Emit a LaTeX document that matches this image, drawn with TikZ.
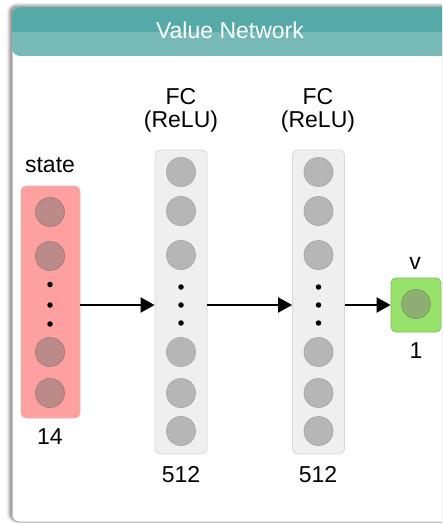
\documentclass[tikz,border=0pt]{standalone}
\usepackage{fontspec}
\setmainfont{Liberation Sans}
\usetikzlibrary{shadows.blur,arrows.meta}

\definecolor{headdark}{HTML}{55AAA8}
\definecolor{headlight}{HTML}{76B9B7}
\definecolor{panelline}{HTML}{B0B0B0}
\definecolor{statefill}{HTML}{FFA0A0}
\definecolor{stateline}{HTML}{E0B8B8}
\definecolor{stateunit}{HTML}{BD8A8A}
\definecolor{stateunitline}{HTML}{AA7C7C}
\definecolor{layerfill}{HTML}{EFEFEF}
\definecolor{layerline}{HTML}{D8D8D8}
\definecolor{unitfill}{HTML}{B6B6B6}
\definecolor{unitline}{HTML}{AAAAAA}
\definecolor{outfill}{HTML}{98E26C}
\definecolor{outunit}{HTML}{8DAE72}
\definecolor{outunitline}{HTML}{7F9E66}

\begin{document}
\begin{tikzpicture}[x=1pt,y=-1pt,
  lbl/.style={font=\fontsize{23}{27}\selectfont, anchor=base, inner sep=0pt},
  layerbox/.style={draw=layerline, fill=layerfill, line width=0.8pt, rounded corners=5pt, inner sep=0pt},
  unit/.style={circle, draw=unitline, fill=unitfill, line width=0.8pt, minimum size=29pt, inner sep=0pt},
  stateunit/.style={unit, draw=stateunitline, fill=stateunit},
  dot/.style={circle, fill=black, minimum size=5.5pt, inner sep=0pt},
  arr/.style={line width=2pt, -{Triangle[length=14pt,width=15pt]}}]

\useasboundingbox (0,0) rectangle (442,524);

% panel with soft shadow
\begin{scope}
  \clip (0,0) rectangle (442,524);
  \fill[white, draw=panelline, line width=1pt, rounded corners=7pt,
        blur shadow={shadow xshift=-2.5pt, shadow yshift=1.5pt, shadow blur radius=3pt, shadow opacity=50}]
    (12,7) rectangle (452,522);
  % two-tone header
  \begin{scope}
    \clip[rounded corners=8pt] (12,7) rectangle (452,56);
    \fill[headdark] (12,7) rectangle (452,32);
    \fill[headlight] (12,32) rectangle (452,56);
  \end{scope}
\end{scope}
\node[lbl, text=white] (title) at (230,39) {Value Network};

% input layer
\node[layerbox, draw=stateline, fill=statefill, minimum width=59pt, minimum height=232pt] (in) at (50.5,302) {};
\node[stateunit] (in1) at (50,212) {};
\node[stateunit] (in2) at (50,256) {};
\node[dot] (ind1) at (50,284.5) {};
\node[dot] (ind2) at (50,305) {};
\node[dot] (ind3) at (50,324) {};
\node[stateunit] (in3) at (50,352) {};
\node[stateunit] (in4) at (50,393) {};
\node[lbl] (inname) at (50,172) {state};
\node[lbl] (insize) at (50,444) {14};

% first hidden layer
\node[layerbox, minimum width=52pt, minimum height=304pt] (fca) at (181,302) {};
\foreach \y [count=\i] in {172,211,255,352,393,431}
  \node[unit] (fca\i) at (181,\y) {};
\node[dot] (fcad1) at (181,287) {};
\node[dot] (fcad2) at (181,305) {};
\node[dot] (fcad3) at (181,323) {};
\node[lbl] (fcaname) at (181,104) {FC};
\node[lbl] (fcaact) at (181,128) {(ReLU)};
\node[lbl] (fcasize) at (181,482) {512};

% second hidden layer
\node[layerbox, minimum width=52pt, minimum height=304pt] (fcb) at (318.5,302) {};
\foreach \y [count=\i] in {172,211,255,352,393,431}
  \node[unit] (fcb\i) at (318.5,\y) {};
\node[dot] (fcbd1) at (318.5,287) {};
\node[dot] (fcbd2) at (318.5,305) {};
\node[dot] (fcbd3) at (318.5,323) {};
\node[lbl] (fcbname) at (318,104) {FC};
\node[lbl] (fcbact) at (318,128) {(ReLU)};
\node[lbl] (fcbsize) at (318,482) {512};

% output
\node[layerbox, draw=outfill!85!black, fill=outfill, minimum width=50pt, minimum height=54pt] (out) at (416,305) {};
\node[unit, draw=outunitline, fill=outunit] (outu) at (416,304) {};
\node[lbl] (outname) at (415,269) {v};
\node[lbl] (outsize) at (416,358) {1};

% connections
\draw[arr] (in.east |- out) -- (fca.west |- out);
\draw[arr] (fca.east |- out) -- (fcb.west |- out);
\draw[arr] (fcb.east |- out) -- (out.west);
\end{tikzpicture}
\end{document}
